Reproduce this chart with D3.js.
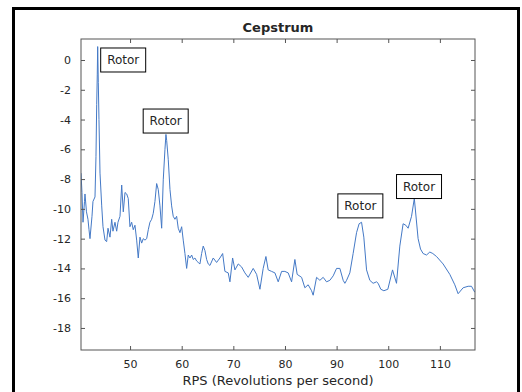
<!DOCTYPE html>
<html><head><meta charset="utf-8">
<script src="https://cdn.jsdelivr.net/npm/d3@7"></script>
<style>body{margin:0;background:#fff}svg{display:block}text{font-family:"DejaVu Sans",sans-serif;fill:#262626}</style>
</head><body><svg id="c" width="522" height="392"></svg>
<script>
const title = "Cepstrum";
const xLabel = "RPS (Revolutions per second)";
const xTicks = [50,60,70,80,90,100,110];
const yTicks = [0,-2,-4,-6,-8,-10,-12,-14,-16,-18];
const rps = [40.50,40.69,40.89,41.18,41.27,41.56,41.85,42.05,42.24,42.63,42.82,43.21,43.40,43.54,43.65,43.73,43.85,43.98,44.18,44.51,44.76,45.15,45.47,45.73,46.11,46.44,46.69,47.08,47.41,47.66,48.05,48.38,48.69,49.02,49.35,49.65,49.98,50.31,50.62,50.95,51.28,51.59,51.92,52.25,52.56,52.89,53.22,53.53,53.85,54.18,54.49,54.82,55.15,55.46,55.79,56.12,56.43,56.76,56.95,57.09,57.40,57.73,58.05,58.36,58.69,59.02,59.33,59.66,59.99,60.30,60.63,60.96,61.27,61.60,61.93,62.24,62.56,62.89,63.20,63.53,63.86,64.17,64.50,64.83,65.14,65.47,66.11,66.76,67.40,67.93,68.37,69.01,69.34,69.86,70.31,70.95,71.60,72.24,72.88,73.85,74.51,75.15,75.78,76.31,76.75,77.41,78.05,78.69,79.35,79.98,80.62,81.28,81.92,82.36,83.22,83.85,84.49,85.15,85.46,86.12,86.76,87.40,88.05,88.69,89.34,89.99,90.63,91.27,91.60,91.93,92.56,93.20,93.86,94.36,94.83,95.27,95.80,96.43,97.07,97.73,98.04,98.56,99.15,99.92,100.83,101.60,102.24,102.88,103.40,103.85,104.51,105.05,105.78,106.25,106.75,107.41,108.05,108.63,109.35,110.62,111.92,112.89,113.53,114.50,115.47,116.12,116.76];
const cep = [-7.6,-8.9,-10.9,-9.5,-9.0,-10.2,-10.7,-11.4,-12.0,-10.5,-9.5,-9.2,-6.5,-3,-1,0.9,-1.5,-4,-7.6,-9.8,-11.2,-12.1,-12.2,-11.3,-11.9,-10.7,-11.5,-10.9,-11.5,-10.9,-10.5,-8.4,-10.2,-8.9,-9.0,-9.3,-11.2,-10.9,-11.4,-11.1,-12.1,-13.3,-11.9,-12.3,-12.0,-12.1,-12.0,-11.4,-10.9,-10.7,-10.3,-9.5,-8.3,-8.7,-9.8,-11.3,-8.05,-6.0,-5.0,-5.4,-6.7,-8.7,-9.8,-10.5,-10.7,-10.5,-11.3,-11.6,-11.2,-12.1,-13.0,-14.0,-13.1,-13.3,-13.1,-13.4,-13.3,-13.5,-13.6,-13.7,-13.0,-12.5,-12.8,-13.4,-13.7,-13.8,-13.3,-13.6,-13.3,-13.0,-14.2,-14.3,-14.9,-13.3,-14.1,-13.7,-13.9,-14.3,-14.6,-14.0,-14.4,-15.4,-14.0,-13.2,-14.1,-14.2,-14.3,-14.9,-14.2,-14.2,-14.3,-14.9,-13.4,-14.4,-14.6,-15.3,-15.1,-15.5,-15.8,-14.6,-14.8,-14.6,-14.9,-14.8,-14.5,-14.0,-14.0,-14.8,-15.0,-14.8,-14.3,-13.0,-11.6,-11.0,-10.9,-11.9,-14.1,-14.8,-15.0,-14.9,-15.0,-15.4,-15.5,-15.4,-14.1,-15.0,-12.5,-11.0,-11.1,-11.3,-10.5,-9.3,-12.0,-12.7,-13.0,-13.1,-12.9,-13.0,-13.2,-13.7,-14.4,-15.1,-15.7,-15.3,-15.2,-15.2,-15.6];
const labelText = ["Rotor","Rotor","Rotor","Rotor"];
const labelX = [48.67,56.9,94.6,105.96];
const labelY = [0,-4.1,-9.8,-8.5];

const svg = d3.select("#c");
svg.append("rect").attr("x",13.5).attr("y",8.5).attr("width",505).attr("height",400)
  .attr("fill","none").attr("stroke","#000").attr("stroke-width",3);
const L=81,R=475,T=39,B=350;
const x = d3.scaleLinear().domain([40.5,116.8]).range([L,R]);
const y = d3.scaleLinear().domain([-19.48,1.41]).range([B,T]);
const axCol="#555";
const fmt = d=>String(d);
const g = svg.append("g");
g.append("clipPath").attr("id","clip").append("rect").attr("x",L).attr("y",T).attr("width",R-L).attr("height",B-T);
g.append("path").datum(rps.map((d,i)=>[d,cep[i]])).attr("clip-path","url(#clip)")
  .attr("fill","none").attr("stroke","#4479c6").attr("stroke-width",1)
  .attr("d",d3.line().x(d=>x(d[0])).y(d=>y(d[1])));
function styleAxis(sel){sel.select(".domain").remove();sel.selectAll("line").attr("stroke",axCol);sel.selectAll("text").attr("fill","#333").style("font-family","DejaVu Sans").style("font-size","11px");}
g.append("g").attr("transform",`translate(0,${B})`).call(d3.axisBottom(x).tickValues(xTicks).tickFormat(fmt).tickSizeInner(-4).tickSizeOuter(0).tickPadding(10)).call(styleAxis);
g.append("g").attr("transform",`translate(0,${T})`).call(d3.axisTop(x).tickValues(xTicks).tickSizeInner(-4).tickSizeOuter(0).tickFormat("")).call(styleAxis);
g.append("g").attr("transform",`translate(${L},0)`).call(d3.axisLeft(y).tickValues(yTicks).tickFormat(fmt).tickSizeInner(-4).tickSizeOuter(0).tickPadding(10)).call(styleAxis);
g.append("g").attr("transform",`translate(${R},0)`).call(d3.axisRight(y).tickValues(yTicks).tickSizeInner(-4).tickSizeOuter(0).tickFormat("")).call(styleAxis);
g.append("rect").attr("x",L).attr("y",T).attr("width",R-L).attr("height",B-T).attr("fill","none").attr("stroke",axCol).attr("stroke-width",1);
labelText.forEach((t,i)=>{
  const cx=x(labelX[i]), cy=y(labelY[i]);
  g.append("rect").attr("x",cx-22.5).attr("y",cy-12).attr("width",45).attr("height",24).attr("fill","#fff").attr("stroke","#000").attr("stroke-width",1);
  g.append("text").attr("x",cx).attr("y",cy).attr("text-anchor","middle").attr("dominant-baseline","central").style("font-size","12px").text(t);
});
svg.append("text").attr("x",278).attr("y",32).attr("text-anchor","middle").style("font-size","13px").style("font-weight","bold").attr("fill","#000").text(title);
svg.append("text").attr("x",278).attr("y",385).attr("text-anchor","middle").style("font-size","13px").text(xLabel);
</script></body></html>
